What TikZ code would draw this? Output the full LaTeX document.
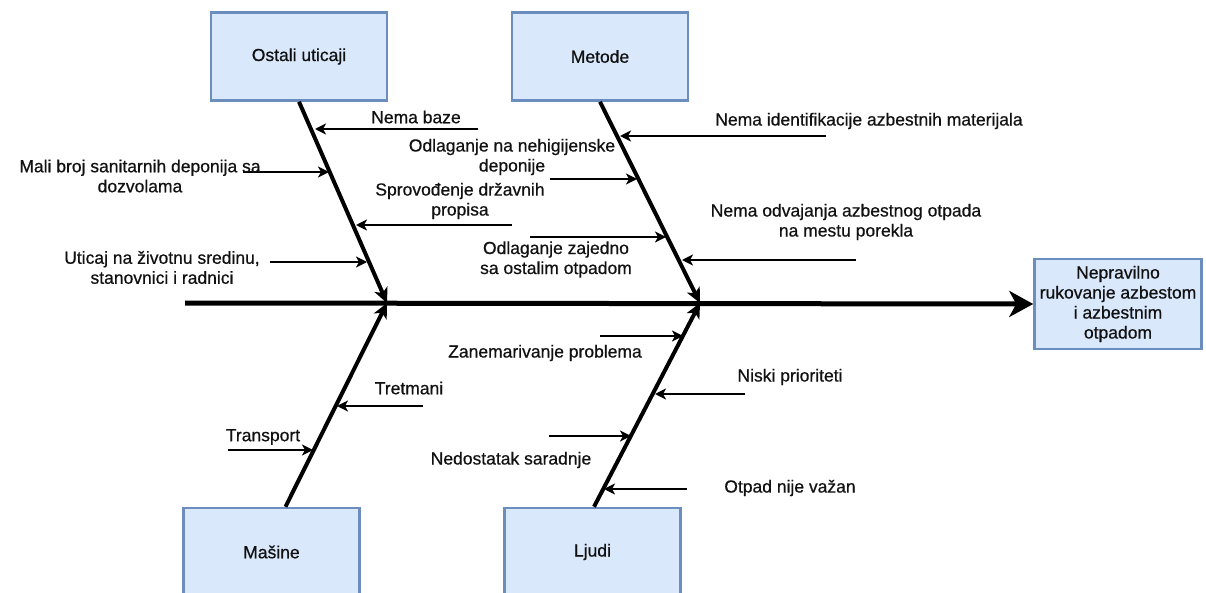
\documentclass[tikz,border=0pt]{standalone}
\usepackage{fontspec}
\setmainfont{Liberation Sans}[FakeBold=0.6]
\usetikzlibrary{arrows.meta}
\definecolor{boxfill}{HTML}{DAE8FC}
\definecolor{boxline}{HTML}{6C8EBF}
\definecolor{ink}{HTML}{111111}
\begin{document}
\begin{tikzpicture}[x=1pt,y=-1pt,
  every node/.style={font=\fontsize{17.5pt}{20pt}\selectfont, inner sep=0pt, text=ink},
  cat/.style={draw=boxline, fill=boxfill, line width=2.5pt, minimum width=176pt,
              minimum height=88pt, align=center},
  lbl/.style={align=center},
  bone/.style={line width=4pt, -{Stealth[length=15pt,width=14pt,inset=4pt]}},
  spine/.style={line width=5pt, -{Stealth[length=24pt,width=26pt,inset=7pt]}},
  cause/.style={line width=2.5pt, -{Stealth[length=11pt,width=11pt,inset=3pt]}}]
\useasboundingbox (0,0) rectangle (1206,593);

% category boxes and the effect
\node[cat] (ostali) at (299,56.5) {Ostali uticaji};
\node[cat] (metode) at (600,56.5) {Metode};
\node[cat] (masine) at (271.5,552) {Mašine};
\node[cat] (ljudi)  at (592.5,552) {Ljudi};
\node[cat, minimum width=167pt, minimum height=90pt] (effect) at (1118,304)
  {Nepravilno\\rukovanje azbestom\\i azbestnim\\otpadom};

% main spine and the four bones
\coordinate (tail) at (185,303);
\coordinate (jA) at (387,303);
\coordinate (jB) at (700,303);
\draw[spine] (tail) -- (effect.west);
\draw[bone] (ostali.south) -- (jA);
\draw[bone] (metode.south) -- (jB);
\draw[bone] ([xshift=14pt]masine.north) -- (jA);
\draw[bone] ([xshift=1.5pt]ljudi.north) -- (jB);

% causes: Ostali uticaji
\coordinate (c1s) at (478,129); \coordinate (c1t) at (315,129);
\draw[cause] (c1s) -- (c1t);
\node[lbl] (l1) at (416,117) {Nema baze};
\coordinate (c2s) at (243,172); \coordinate (c2t) at (329,172);
\draw[cause] (c2s) -- (c2t);
\node[lbl] (l2) at (140,176) {Mali broj sanitarnih deponija sa\\dozvolama};
\coordinate (c3s) at (512,225); \coordinate (c3t) at (356,225);
\draw[cause] (c3s) -- (c3t);
\node[lbl] (l3) at (460,201) {Sprovođenje državnih\\propisa};
\coordinate (c4s) at (270,262); \coordinate (c4t) at (367,262);
\draw[cause] (c4s) -- (c4t);
\node[lbl] (l4) at (162,267.5) {Uticaj na životnu sredinu,\\stanovnici i radnici};

% causes: Metode
\coordinate (c5s) at (826,136); \coordinate (c5t) at (620,136);
\draw[cause] (c5s) -- (c5t);
\node[lbl] (l5) at (869,121) {Nema identifikacije azbestnih materijala};
\coordinate (c6s) at (550,179); \coordinate (c6t) at (637,179);
\draw[cause] (c6s) -- (c6t);
\node[lbl] (l6) at (512,157) {Odlaganje na nehigijenske\\deponije};
\coordinate (c7s) at (530,237); \coordinate (c7t) at (666,237);
\draw[cause] (c7s) -- (c7t);
\node[lbl] (l7) at (556,259.5) {Odlaganje zajedno\\sa ostalim otpadom};
\coordinate (c8s) at (856,260); \coordinate (c8t) at (682,260);
\draw[cause] (c8s) -- (c8t);
\node[lbl] (l8) at (846,222) {Nema odvajanja azbestnog otpada\\na mestu porekla};

% causes: Ljudi
\coordinate (c9s) at (600,336); \coordinate (c9t) at (683,336);
\draw[cause] (c9s) -- (c9t);
\node[lbl] (l9) at (545,353) {Zanemarivanje problema};
\coordinate (c10s) at (745,394); \coordinate (c10t) at (655,394);
\draw[cause] (c10s) -- (c10t);
\node[lbl] (l10) at (790,377) {Niski prioriteti};
\coordinate (c11s) at (549,436); \coordinate (c11t) at (631,436);
\draw[cause] (c11s) -- (c11t);
\node[lbl] (l11) at (511,460) {Nedostatak saradnje};
\coordinate (c12s) at (687,489); \coordinate (c12t) at (604,489);
\draw[cause] (c12s) -- (c12t);
\node[lbl] (l12) at (790,488) {Otpad nije važan};

% causes: Mašine
\coordinate (c13s) at (423,406); \coordinate (c13t) at (337,406);
\draw[cause] (c13s) -- (c13t);
\node[lbl] (l13) at (409,388) {Tretmani};
\coordinate (c14s) at (228,450); \coordinate (c14t) at (313,450);
\draw[cause] (c14s) -- (c14t);
\node[lbl] (l14) at (263,437) {Transport};
\end{tikzpicture}
\end{document}
